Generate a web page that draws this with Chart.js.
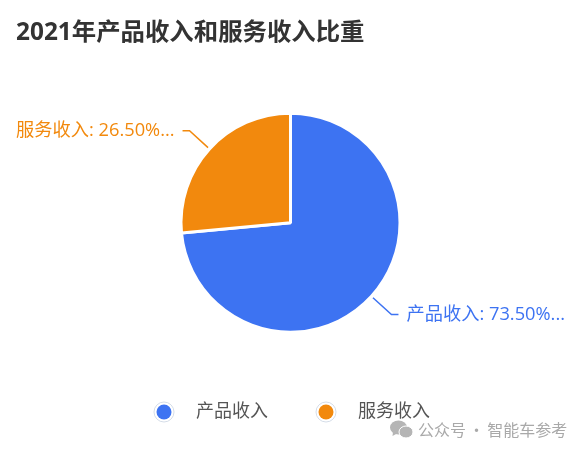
<!DOCTYPE html>
<html>
<head>
<meta charset="utf-8">
<script src="https://cdn.jsdelivr.net/npm/chart.js@4"></script>
<style>
  body { margin: 0; background: #fff; }
  #wrap { position: relative; width: 585px; height: 453px; overflow: hidden; }
  #mark { position: absolute; left: 390px; top: 419px; display: flex; align-items: center; gap: 5px;
    font: 16px "Noto Sans CJK SC", sans-serif; word-spacing: -1px; color: #a9a9a9; white-space: nowrap; line-height: 20px; }
</style>
</head>
<body>
<div id="wrap">
  <canvas id="pieChart" width="585" height="453"></canvas>
  <div id="mark">
    <svg width="23" height="19" viewBox="0 0 23 19">
      <ellipse cx="8.5" cy="7.5" rx="8.5" ry="7" fill="#b5b5b5"/>
      <path d="M3 12 L2.5 16 L7 13.5 Z" fill="#b5b5b5"/>
      <ellipse cx="16" cy="12" rx="7" ry="6" fill="#b5b5b5" stroke="#fff"/>
    </svg>
    <span>公众号 · 智能车参考</span>
  </div>
</div>
<script>
const titleText = "2021年产品收入和服务收入比重";
const categories = ["产品收入", "服务收入"];
const shares = [73.5, 26.5];
const colors = ["#3D73F2", "#F2890D"];
const cjkFont = '"Open Sans", "Noto Sans CJK SC", sans-serif';

// Legend dot with a light ring, used as the legend's point style
function legendDot(color) {
  const dot = document.createElement("canvas");
  dot.width = 22;
  dot.height = 22;
  const c = dot.getContext("2d");
  c.fillStyle = color;
  c.beginPath();
  c.arc(11, 11, 7.5, 0, Math.PI * 2);
  c.fill();
  c.strokeStyle = "#d5dde8";
  c.lineWidth = 1;
  c.beginPath();
  c.arc(11, 11, 10, 0, Math.PI * 2);
  c.stroke();
  return dot;
}

// Leader lines and labels next to each slice
const sliceLabels = {
  id: "sliceLabels",
  afterLayout(chart) {
    // legend sits a little left of the pie centre
    chart.legend.left -= 5;
    chart.legend.right -= 5;
  },
  afterDatasetsDraw(chart) {
    const ctx = chart.ctx;
    chart.getDatasetMeta(0).data.forEach((arc, i) => {
      const { x, y, startAngle, endAngle, outerRadius } = arc.getProps(["x", "y", "startAngle", "endAngle", "outerRadius"], true);
      const mid = (startAngle + endAngle) / 2;
      const side = Math.cos(mid) >= 0 ? 1 : -1;
      const x1 = x + Math.cos(mid) * (outerRadius + 2);
      const y1 = y + Math.sin(mid) * (outerRadius + 2);
      const x2 = x + Math.cos(mid) * (outerRadius + 27);
      const y2 = y + Math.sin(mid) * (outerRadius + 27);
      const x3 = x2 + side * 7;
      ctx.save();
      ctx.strokeStyle = colors[i];
      ctx.lineWidth = 1.5;
      ctx.beginPath();
      ctx.moveTo(x1, y1);
      ctx.lineTo(x2, y2);
      ctx.lineTo(x3, y2);
      ctx.stroke();
      ctx.fillStyle = colors[i];
      ctx.font = "18.25px " + cjkFont;
      ctx.textBaseline = "middle";
      ctx.textAlign = side > 0 ? "left" : "right";
      ctx.fillText(categories[i] + ": " + shares[i].toFixed(2) + "%...", x3 + side * 8, y2);
      ctx.restore();
    });
  },
};

new Chart(document.getElementById("pieChart").getContext("2d"), {
  type: "pie",
  plugins: [sliceLabels],
  data: {
    labels: categories,
    datasets: [{ data: shares, backgroundColor: colors, borderColor: "#fff", borderWidth: 3, radius: 109.5 }],
  },
  options: {
    responsive: false,
    animation: false,
    layout: { padding: { left: 16, right: 20, bottom: 22 } },
    plugins: {
      tooltip: { enabled: false },
      title: {
        display: true,
        text: titleText,
        align: "start",
        color: "#333",
        font: { family: cjkFont, size: 24.4, weight: "bold" },
        padding: { top: 18, bottom: 30 },
      },
      legend: {
        position: "bottom",
        labels: {
          usePointStyle: true,
          boxHeight: 10,
          pointStyleWidth: 46,
          padding: 35,
          color: "#555",
          font: { family: cjkFont, size: 18 },
          generateLabels: (chart) =>
            categories.map((name, i) => ({
              text: name,
              fontColor: "#555",
              pointStyle: legendDot(colors[i]),
              index: i,
            })),
        },
      },
    },
  },
});
</script>
</body>
</html>
